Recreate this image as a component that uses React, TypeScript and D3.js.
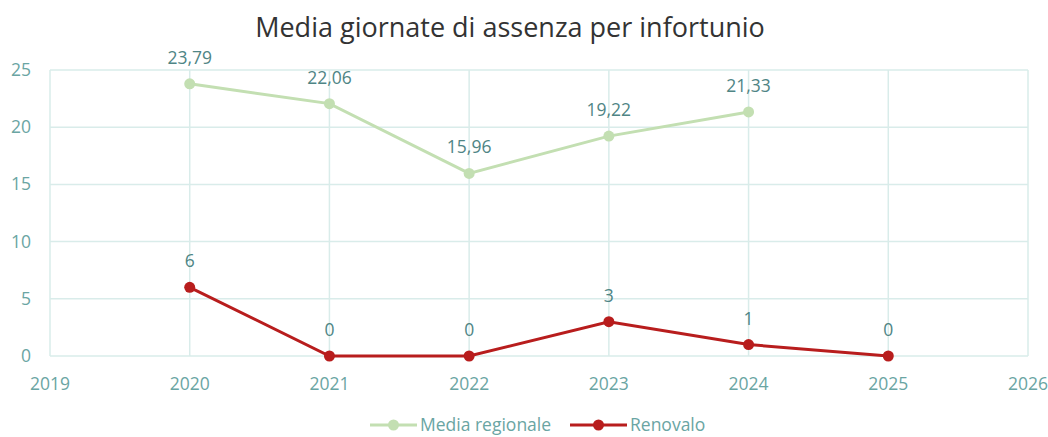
import { useRef, useEffect } from 'react';
import * as d3 from 'd3';

const years = [2020, 2021, 2022, 2023, 2024, 2025];
const mediaRegionale = [23.79, 22.06, 15.96, 19.22, 21.33];
const renovalo = [6, 0, 0, 3, 1, 0];
const yTicks = [0, 5, 10, 15, 20, 25];
const xTicks = [2019, 2020, 2021, 2022, 2023, 2024, 2025, 2026];

const fmt = (v: number) => String(v).replace('.', ',').replace(/,(\d)$/, ',$10');

const App = () => {
  const ref = useRef<SVGSVGElement>(null);

  useEffect(() => {
    const svg = d3.select(ref.current);
    svg.selectAll('*').remove();
    const font = "'Open Sans', sans-serif";
    const grid = '#d9ecea';
    const axisText = '#6aa5a3';
    const labelText = '#4f8585';

    const x = d3.scaleLinear().domain([2019, 2026]).range([50, 1028]);
    const y = d3.scaleLinear().domain([0, 25]).range([356, 70]);

    svg.append('text')
      .attr('x', 510).attr('y', 37)
      .attr('text-anchor', 'middle')
      .attr('font-family', font).attr('font-size', 27)
      .attr('fill', '#333')
      .text('Media giornate di assenza per infortunio');

    const g = svg.append('g');
    g.selectAll('.hgrid').data(yTicks).enter().append('line')
      .attr('x1', x(2019)).attr('x2', x(2026))
      .attr('y1', d => y(d)).attr('y2', d => y(d))
      .attr('stroke', grid).attr('stroke-width', 1.5);
    g.selectAll('.vgrid').data(xTicks).enter().append('line')
      .attr('x1', d => x(d)).attr('x2', d => x(d))
      .attr('y1', y(0)).attr('y2', y(25))
      .attr('stroke', grid).attr('stroke-width', 1.5);

    g.selectAll('.ytick').data(yTicks).enter().append('text')
      .attr('x', 31).attr('y', d => y(d) + 6)
      .attr('text-anchor', 'end')
      .attr('font-family', font).attr('font-size', 17.5)
      .attr('fill', axisText)
      .text(d => d);
    g.selectAll('.xtick').data(xTicks).enter().append('text')
      .attr('x', d => x(d)).attr('y', 390)
      .attr('text-anchor', 'middle')
      .attr('font-family', font).attr('font-size', 17.5)
      .attr('fill', axisText)
      .text(d => d);

    const series = [
      { name: 'Media regionale', values: mediaRegionale, color: '#c3dfb2' },
      { name: 'Renovalo', values: renovalo, color: '#b81d1d' },
    ];
    const line = d3.line<number>()
      .x((_, i) => x(years[i]))
      .y(d => y(d));

    series.forEach(s => {
      g.append('path')
        .datum(s.values)
        .attr('d', line)
        .attr('fill', 'none')
        .attr('stroke', s.color).attr('stroke-width', 3);
      g.selectAll(null).data(s.values).enter().append('circle')
        .attr('cx', (_, i) => x(years[i]))
        .attr('cy', d => y(d))
        .attr('r', 5.5)
        .attr('fill', s.color);
      g.selectAll(null).data(s.values).enter().append('text')
        .attr('x', (_, i) => x(years[i]))
        .attr('y', d => y(d) - 20)
        .attr('text-anchor', 'middle')
        .attr('font-family', font).attr('font-size', 17.5)
        .attr('fill', labelText)
        .text(d => fmt(d));
    });

    const legend = [
      { x0: 370, tx: 420 },
      { x0: 570, tx: 630 },
    ];
    series.forEach((s, i) => {
      const l = svg.append('g');
      l.append('line')
        .attr('x1', legend[i].x0).attr('x2', legend[i].tx - 3)
        .attr('y1', 425).attr('y2', 425)
        .attr('stroke', s.color).attr('stroke-width', 3);
      l.append('circle')
        .attr('cx', (legend[i].x0 + legend[i].tx - 3) / 2).attr('cy', 425).attr('r', 5.5)
        .attr('fill', s.color);
      l.append('text')
        .attr('x', legend[i].tx).attr('y', 431)
        .attr('font-family', font).attr('font-size', 17.5)
        .attr('fill', axisText)
        .text(s.name);
    });
  }, []);

  return (
    <svg ref={ref} width={1048} height={437}
      style={{ position: 'absolute', left: 0, top: 0, background: '#fff' }} />
  );
};

export default App;
